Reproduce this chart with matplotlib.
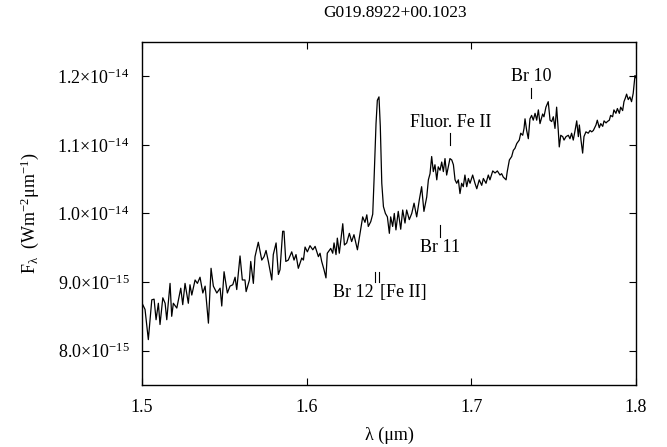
import numpy as np
import matplotlib
matplotlib.use('Agg')
import matplotlib.pyplot as plt
from matplotlib.ticker import FuncFormatter

plt.rcParams['font.family'] = ['Liberation Serif', 'DejaVu Serif']
plt.rcParams['mathtext.fontset'] = 'custom'
plt.rcParams['mathtext.rm'] = 'Liberation Serif'
plt.rcParams['mathtext.it'] = 'Liberation Serif:italic'

title = 'G019.8922+00.1023'

# wavelength (um) and flux (units of 1e-15 W m^-2 um^-1)
wave = [1.5000, 1.5018, 1.5038, 1.5059, 1.5073, 1.5085, 1.5099, 1.5109, 1.5126, 1.5140,
        1.5150, 1.5170, 1.5180, 1.5190, 1.5211, 1.5235, 1.5247, 1.5261, 1.5281, 1.5291,
        1.5302, 1.5322, 1.5336, 1.5352, 1.5369, 1.5383, 1.5403, 1.5419, 1.5433, 1.5454,
        1.5474, 1.5484, 1.5498, 1.5518, 1.5534, 1.5551, 1.5565, 1.5575, 1.5595, 1.5609,
        1.5625, 1.5632, 1.5652, 1.5660, 1.5676, 1.5686, 1.5706, 1.5727, 1.5741, 1.5753,
        1.5767, 1.5788, 1.5797, 1.5814, 1.5828, 1.5838, 1.5854, 1.5862, 1.5873, 1.5888,
        1.5909, 1.5923, 1.5935, 1.5949, 1.5970, 1.5980, 1.5990, 1.6004, 1.6020, 1.6037,
        1.6051, 1.6071, 1.6081, 1.6091, 1.6105, 1.6117, 1.6125, 1.6146, 1.6158, 1.6166,
        1.6178, 1.6186, 1.6198, 1.6219, 1.6229, 1.6243, 1.6259, 1.6273, 1.6287, 1.6308,
        1.6324, 1.6340, 1.6354, 1.6365, 1.6374, 1.6389, 1.6401, 1.6409, 1.6421, 1.6429,
        1.6439, 1.6447, 1.6456, 1.6466, 1.6478, 1.6490, 1.6502, 1.6510, 1.6522, 1.6532,
        1.6542, 1.6556, 1.6571, 1.6583, 1.6597, 1.6607, 1.6623, 1.6638, 1.6652, 1.6668,
        1.6684, 1.6698, 1.6712, 1.6729, 1.6739, 1.6749, 1.6759, 1.6769, 1.6779, 1.6790,
        1.6799, 1.6810, 1.6820, 1.6830, 1.6840, 1.6850, 1.6860, 1.6870, 1.6881, 1.6891,
        1.6901, 1.6911, 1.6921, 1.6931, 1.6941, 1.6951, 1.6961, 1.6972, 1.6982, 1.6992,
        1.7008, 1.7022, 1.7033, 1.7048, 1.7063, 1.7073, 1.7089, 1.7103, 1.7113, 1.7130,
        1.7144, 1.7158, 1.7174, 1.7184, 1.7194, 1.7211, 1.7218, 1.7231, 1.7245, 1.7255,
        1.7265, 1.7276, 1.7291, 1.7300, 1.7312, 1.7320, 1.7326, 1.7336, 1.7346, 1.7356,
        1.7366, 1.7376, 1.7387, 1.7397, 1.7407, 1.7417, 1.7433, 1.7441, 1.7453, 1.7467,
        1.7478, 1.7488, 1.7498, 1.7508, 1.7518, 1.7528, 1.7534, 1.7543, 1.7555, 1.7563,
        1.7575, 1.7589, 1.7599, 1.7609, 1.7619, 1.7630, 1.7640, 1.7650, 1.7656, 1.7666,
        1.7676, 1.7684, 1.7696, 1.7710, 1.7721, 1.7731, 1.7741, 1.7757, 1.7765, 1.7777,
        1.7786, 1.7798, 1.7806, 1.7818, 1.7826, 1.7838, 1.7846, 1.7858, 1.7866, 1.7878,
        1.7887, 1.7899, 1.7907, 1.7919, 1.7927, 1.7935, 1.7943, 1.7953, 1.7963, 1.7973,
        1.7983, 1.7994, 1.8000]
flux = [8.69, 8.60, 8.16, 8.74, 8.75, 8.45, 8.69, 8.38, 8.77, 8.69,
        8.45, 8.98, 8.50, 8.69, 8.62, 8.91, 8.67, 8.98, 8.69, 8.96,
        8.81, 9.03, 8.98, 9.07, 8.84, 8.94, 8.40, 9.20, 8.94, 8.84,
        8.91, 8.65, 9.15, 8.84, 8.94, 8.96, 9.07, 8.89, 9.38, 9.03,
        9.03, 8.86, 9.03, 9.30, 8.98, 9.37, 9.58, 9.32, 9.37, 9.46,
        9.30, 9.03, 9.40, 9.57, 9.11, 9.18, 9.74, 9.74, 9.30, 9.32,
        9.44, 9.32, 9.40, 9.20, 9.35, 9.32, 9.51, 9.44, 9.53, 9.47,
        9.52, 9.37, 9.42, 9.30, 9.18, 9.06, 9.42, 9.49, 9.42, 9.57,
        9.40, 9.64, 9.42, 9.85, 9.54, 9.57, 9.71, 9.59, 9.69, 9.47,
        9.71, 9.95, 9.87, 9.98, 9.81, 9.88, 9.99, 10.49, 11.31, 11.65,
        11.70, 11.27, 10.44, 10.10, 10.00, 9.95, 9.71, 9.95, 9.81, 10.00,
        9.76, 10.03, 9.77, 10.05, 9.86, 10.05, 9.91, 10.00, 10.15, 9.95,
        10.20, 10.39, 10.03, 10.24, 10.49, 10.58, 10.83, 10.61, 10.71, 10.49,
        10.68, 10.63, 10.75, 10.61, 10.80, 10.56, 10.68, 10.80, 10.78, 10.71,
        10.49, 10.44, 10.49, 10.29, 10.44, 10.39, 10.56, 10.39, 10.51, 10.44,
        10.56, 10.44, 10.36, 10.49, 10.41, 10.51, 10.44, 10.56, 10.49, 10.62,
        10.59, 10.62, 10.56, 10.58, 10.53, 10.49, 10.61, 10.78, 10.83, 10.92,
        10.95, 11.02, 11.07, 11.17, 11.14, 11.24, 11.38, 11.21, 11.09, 11.38,
        11.43, 11.36, 11.46, 11.36, 11.51, 11.31, 11.45, 11.41, 11.55, 11.63,
        11.36, 11.34, 11.41, 11.24, 11.55, 11.21, 10.97, 11.14, 11.12, 11.07,
        11.12, 11.14, 11.09, 11.17, 11.07, 11.21, 11.35, 11.12, 11.29, 11.07,
        10.88, 11.12, 11.19, 11.17, 11.21, 11.19, 11.21, 11.29, 11.36, 11.25,
        11.31, 11.27, 11.35, 11.32, 11.34, 11.36, 11.43, 11.41, 11.51, 11.46,
        11.53, 11.46, 11.55, 11.50, 11.63, 11.68, 11.74, 11.66, 11.70, 11.63,
        11.75, 12.01, 11.98]

# line identifications
line_names = ['Br 10', 'Fluor. Fe II', 'Br 11', 'Br 12', '[Fe II]']
line_waves = [1.7362, 1.6872, 1.6811, 1.6412, 1.6440]

wave = np.array(wave)
flux = np.array(flux) * 1e-15


def sci_fmt(v, pos):
    if v <= 0:
        return ''
    e = int(np.floor(np.log10(v) + 1e-9))
    m = v / 10**e
    return r'%.1f$\times$10$^{%d}$' % (m, e)


fig = plt.figure(figsize=(6.67, 4.47), dpi=100)
ax = fig.add_axes([0.213, 0.139, 0.7405, 0.767])
ax.plot(wave, flux, color='black', lw=0.9)

ax.set_xlim(1.5, 1.8)
ax.set_ylim(7.5e-15, 1.25e-14)
ax.set_xticks([1.5, 1.6, 1.7, 1.8])
ax.set_xticklabels(['1.5', '1.6', '1.7', '1.8'])
ax.set_yticks([8e-15, 9e-15, 1e-14, 1.1e-14, 1.2e-14])
ax.yaxis.set_major_formatter(FuncFormatter(sci_fmt))
ax.yaxis.get_offset_text().set_visible(False)
ax.tick_params(direction='in', length=5, width=0.8, top=True, right=True,
               labelsize=13, pad=9)
ax.tick_params(axis='x', pad=10)
for s in ax.spines.values():
    s.set_linewidth(1.0)

# line markers
mk = dict(color='black', lw=0.8)
ax.plot([line_waves[0]] * 2, [11.68e-15, 11.83e-15], **mk)
ax.text(line_waves[0], 11.99e-15, line_names[0], ha='center', va='center', fontsize=13)
ax.plot([line_waves[1]] * 2, [11.0e-15, 11.17e-15], **mk)
ax.text(line_waves[1], 11.33e-15, line_names[1], ha='center', va='center', fontsize=13)
ax.plot([line_waves[2]] * 2, [9.66e-15, 9.83e-15], **mk)
ax.text(line_waves[2], 9.50e-15, line_names[2], ha='center', va='center', fontsize=13)
ax.plot([line_waves[3]] * 2, [9.0e-15, 9.15e-15], **mk)
ax.text(line_waves[3] - 0.0005, 8.84e-15, line_names[3], ha='right', va='center', fontsize=13)
ax.plot([line_waves[4]] * 2, [9.0e-15, 9.15e-15], **mk)
ax.text(line_waves[4] + 0.0005, 8.84e-15, line_names[4], ha='left', va='center', fontsize=13)

ax.set_xlabel('λ (μm)', fontsize=13, labelpad=8)
ax.set_ylabel(r'$\mathrm{F_{λ}}$  (Wm$^{-2}$μm$^{-1}$)', fontsize=13, labelpad=12)
fig.text(0.592, 0.972, title, ha='center', va='center', fontsize=12.5)

fig.savefig('out.png', dpi=100)
